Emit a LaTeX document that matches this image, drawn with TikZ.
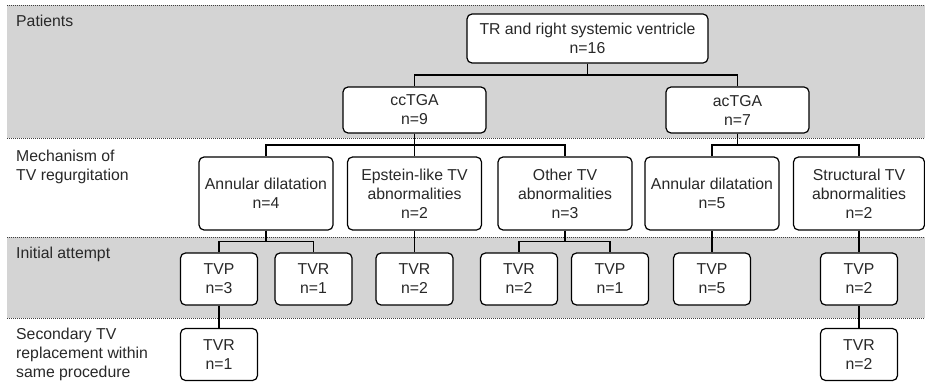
\documentclass[tikz,border=0pt]{standalone}
\usepackage{fontspec}
\setmainfont{Liberation Sans}
\usepackage{tikz}
\usetikzlibrary{calc}
\usetikzlibrary{positioning}
\definecolor{bandgray}{RGB}{212,212,212}
\definecolor{txtgray}{RGB}{40,40,40}
\newcommand{\fork}[2]{\draw[link] (#1.south) |- ($(#1.south)!0.5!(#2.north)$) -| (#2.north);}

\begin{document}
\begin{tikzpicture}[x=1pt,y=-1pt,
    box/.style={draw=black,line width=1.2pt,rounded corners=5pt,fill=white,
      align=center,inner sep=0pt,text=txtgray,font=\fontsize{15.8}{19}\selectfont},
    small/.style={box,minimum width=77pt,minimum height=52pt},
    mech/.style={box,minimum width=134pt,minimum height=73pt},
    group/.style={box,minimum width=143pt,minimum height=46pt},
    rowlabel/.style={anchor=base west,align=left,inner sep=0pt,text=txtgray,
      font=\fontsize{15.8}{19}\selectfont},
    link/.style={draw=black,line width=1.2pt},
    sep/.style={draw=black!75,line width=0.9pt,dash pattern=on 1pt off 1pt}]
  \useasboundingbox (0,0) rectangle (925,388);
  % bands
  \fill[bandgray] (7,5) rectangle (925,138);
  \fill[bandgray] (7,237) rectangle (925,318);
  \foreach \y in {5,138,237,318}
    \draw[sep] (7,\y) -- (925,\y);
  % row labels (base = last line)
  \node[rowlabel] (lpat) at (16,27) {Patients};
  \node[rowlabel] (lmech) at (16,180) {Mechanism of\\TV regurgitation};
  \node[rowlabel] (linit) at (16,258) {Initial attempt};
  \node[rowlabel] (lsec) at (16,377) {Secondary TV\\replacement within\\same procedure};
  % tree
  \node[box,minimum width=241pt,minimum height=49pt] (root) at (587.5,38.5)
    {TR and right systemic ventricle\\n=16};
  \node[group] (cc) at (414.5,110) {ccTGA\\n=9};
  \node[group] (ac) at (737.5,110) {acTGA\\n=7};
  \node[mech] (ccann) at (266,193.5) {Annular dilatation\\n=4};
  \node[mech] (ccebs) at (414.5,193.5) {Epstein-like TV\\abnormalities\\n=2};
  \node[mech] (ccoth) at (565,193.5) {Other TV\\abnormalities\\n=3};
  \node[mech] (acann) at (712,193.5) {Annular dilatation\\n=5};
  \node[mech,minimum width=131pt] (acstr) at (859,193.5) {Structural TV\\abnormalities\\n=2};
  \node[small] (p1) at (219,279) {TVP\\n=3};
  \node[small] (r1) at (313.5,279) {TVR\\n=1};
  \node[small] (r2) at (414.5,279) {TVR\\n=2};
  \node[small] (r3) at (519,279) {TVR\\n=2};
  \node[small] (p2) at (610,279) {TVP\\n=1};
  \node[small] (p3) at (712,279) {TVP\\n=5};
  \node[small] (p4) at (859,279) {TVP\\n=2};
  \node[small] (s1) at (219,354.5) {TVR\\n=1};
  \node[small] (s2) at (859,354.5) {TVR\\n=2};
  % connectors
  \fork{root}{cc} \fork{root}{ac}
  \fork{cc}{ccann} \fork{cc}{ccebs} \fork{cc}{ccoth}
  \fork{ac}{acann} \fork{ac}{acstr}
  \fork{ccann}{p1} \fork{ccann}{r1}
  \fork{ccebs}{r2}
  \fork{ccoth}{r3} \fork{ccoth}{p2}
  \fork{acann}{p3}
  \fork{acstr}{p4}
  \fork{p1}{s1} \fork{p4}{s2}
\end{tikzpicture}
\end{document}
